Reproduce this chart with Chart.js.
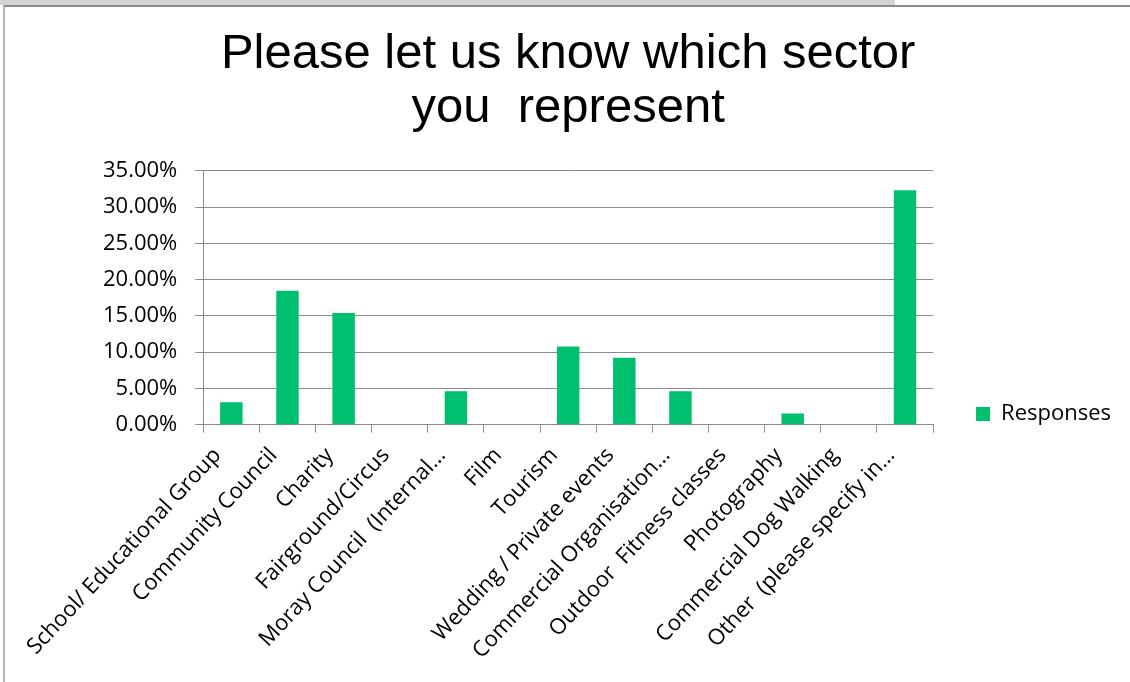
<!DOCTYPE html>
<html lang="en">
<head>
    <meta charset="UTF-8">
    <title>Sector</title>
    <script src="https://cdn.jsdelivr.net/npm/chart.js@4.4.1/dist/chart.umd.min.js"></script>
    <style>
        body { margin: 0; background: #fff; }
        .top-strip { position: absolute; left: 0; top: 0; width: 895px; height: 5px; background: #d4d4d4; }
        .chart-frame {
            position: absolute; left: 3px; top: 5px; width: 1125px; height: 675px;
            border-top: 2px solid #8a8a8a; border-left: 2px solid #b4b4b4;
        }
    </style>
</head>
<body>
<div class="top-strip"></div>
<div class="chart-frame">
    <canvas id="sectorChart"></canvas>
</div>
<script>
    const sectors = [
        'School/ Educational Group',
        'Community Council',
        'Charity',
        'Fairground/Circus',
        'Moray Council  (Internal…',
        'Film',
        'Tourism',
        'Wedding / Private events',
        'Commercial Organisation…',
        'Outdoor  Fitness classes',
        'Photography',
        'Commercial Dog Walking',
        'Other  (please specify in…'
    ];
    const responses = [3.08, 18.46, 15.38, 0, 4.62, 0, 10.77, 9.23, 4.62, 0, 1.54, 0, 32.31];
    const yTicks = [0, 5, 10, 15, 20, 25, 30, 35];

    const gridGrey = '#8c8c8c';
    const labelFont = { family: '"Open Sans", sans-serif', size: 22 };

    new Chart(document.getElementById('sectorChart'), {
        type: 'bar',
        data: {
            labels: sectors,
            datasets: [{
                label: 'Responses',
                data: responses,
                backgroundColor: '#00bf6f',
                borderWidth: 0,
                barPercentage: 0.4,
                categoryPercentage: 1.0
            }]
        },
        options: {
            responsive: true,
            maintainAspectRatio: false,
            animation: false,
            layout: { padding: { left: 80, right: 9, top: 0, bottom: 8 } },
            plugins: {
                title: {
                    display: true,
                    fullSize: false,
                    text: ['Please let us know which sector', 'you  represent'],
                    color: '#000',
                    font: { family: '"Liberation Sans", Arial, sans-serif', size: 49, weight: 'normal', lineHeight: 1.1 },
                    padding: { top: 21, bottom: 35 }
                },
                legend: {
                    position: 'right',
                    align: 'start',
                    // empty title used as a spacer so the key sits down by the axis line
                    title: {
                        display: true,
                        text: '',
                        font: { size: 1, lineHeight: 1 },
                        padding: { top: 352, bottom: 0 }
                    },
                    labels: {
                        boxWidth: 14,
                        boxHeight: 14,
                        color: '#000',
                        font: labelFont,
                        padding: 43
                    }
                },
                tooltip: { enabled: false }
            },
            scales: {
                x: {
                    grid: {
                        drawOnChartArea: false,
                        drawTicks: true,
                        tickLength: 8,
                        color: gridGrey
                    },
                    border: { display: true, color: gridGrey },
                    ticks: {
                        autoSkip: false,
                        maxRotation: 47,
                        minRotation: 47,
                        labelOffset: -14,
                        color: '#000',
                        font: labelFont,
                        padding: 10
                    }
                },
                y: {
                    min: 0,
                    max: 35,
                    afterBuildTicks: (scale) => {
                        scale.ticks = yTicks.map(v => ({ value: v }));
                    },
                    grid: {
                        color: gridGrey,
                        tickLength: 8,
                        drawTicks: true
                    },
                    border: { display: true, color: gridGrey },
                    ticks: {
                        color: '#000',
                        font: labelFont,
                        padding: 18,
                        callback: (v) => v.toFixed(2) + '%'
                    }
                }
            }
        }
    });
</script>
</body>
</html>
